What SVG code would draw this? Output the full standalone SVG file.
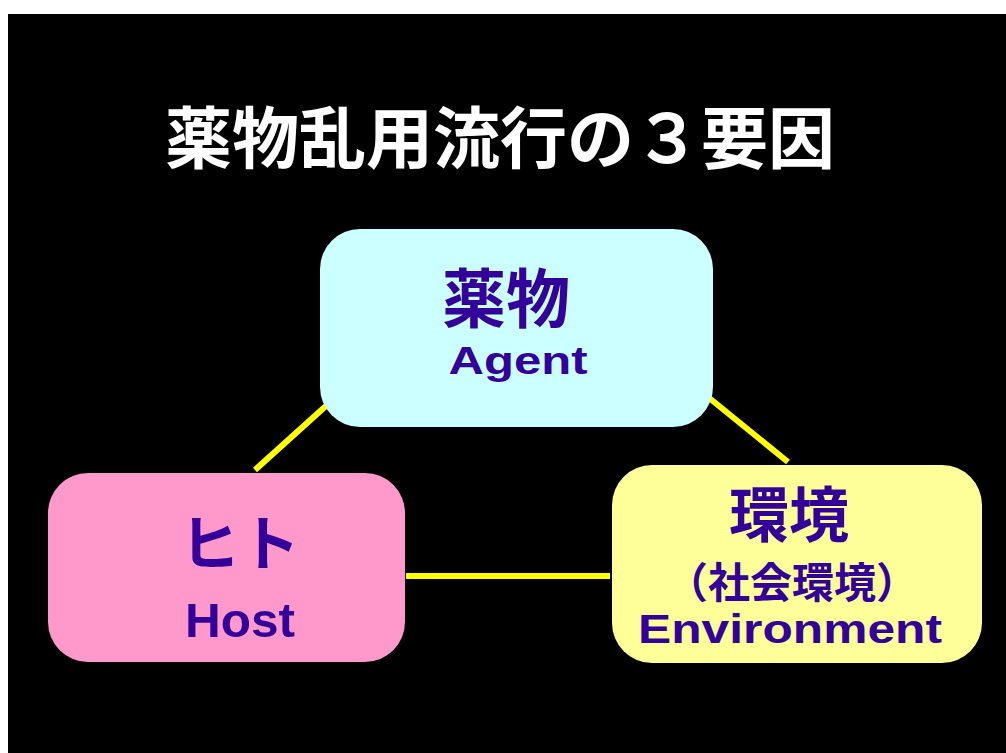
<svg xmlns="http://www.w3.org/2000/svg" width="1006" height="753" viewBox="0 0 1006 753">
<style>
.jp{font-family:"Noto Sans CJK JP","Liberation Sans",sans-serif;font-weight:bold;fill:#330099;text-anchor:middle}
.en{font-family:"Liberation Sans","Noto Sans CJK JP",sans-serif;font-weight:bold;fill:#330099;text-anchor:middle}
.title{font-family:"Noto Sans CJK JP",sans-serif;font-weight:bold;fill:#ffffff;text-anchor:middle}
.conn{stroke:#ffff00;stroke-width:6;fill:none}
</style>
<rect x="0" y="0" width="1006" height="753" fill="#ffffff"/>
<rect x="8" y="14" width="998" height="739" fill="#000000"/>
<text class="title" x="500" y="163" font-size="67">薬物乱用流行の３要因</text>
<g id="connectors">
<line class="conn" x1="327" y1="405" x2="255" y2="470"/>
<line class="conn" x1="708" y1="397" x2="788" y2="462"/>
<line class="conn" x1="406" y1="576" x2="610" y2="576"/>
</g>
<g id="agent">
<rect x="320" y="229" width="393" height="198" rx="40" fill="#ccffff"/>
<text class="jp" x="506" y="322" font-size="64">薬物</text>
<text class="en" x="518" y="374" font-size="38" textLength="139" lengthAdjust="spacingAndGlyphs">Agent</text>
</g>
<g id="host">
<rect x="48" y="473" width="357" height="189" rx="40" fill="#ff99cc"/>
<text class="jp" x="240" y="566" font-size="60">ヒト</text>
<text class="en" x="240" y="637" font-size="48" textLength="110" lengthAdjust="spacingAndGlyphs">Host</text>
</g>
<g id="environment">
<rect x="612" y="465" width="370" height="198" rx="40" fill="#ffff99"/>
<text class="jp" x="789" y="537" font-size="60">環境</text>
<text class="jp" x="792" y="598" font-size="42">（社会環境）</text>
<text class="en" x="790" y="643" font-size="40" textLength="304" lengthAdjust="spacingAndGlyphs">Environment</text>
</g>
</svg>
